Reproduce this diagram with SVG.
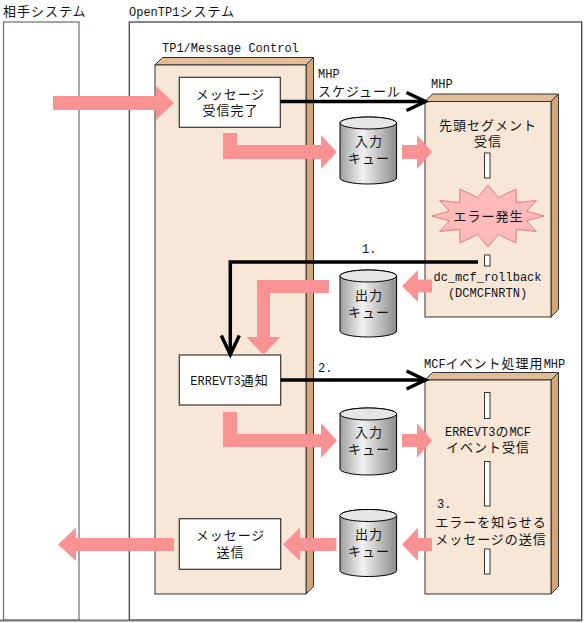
<svg xmlns="http://www.w3.org/2000/svg" xmlns:xlink="http://www.w3.org/1999/xlink" width="587" height="623" viewBox="0 0 587 623">
<style>
.j{font-family:"Noto Sans CJK JP","Noto Sans",sans-serif;font-size:13px;letter-spacing:1px;fill:#111}
.m{font-family:"Liberation Mono","DejaVu Sans Mono",monospace;font-size:12px;letter-spacing:0;fill:#111}
.c{text-anchor:middle}
.sys{fill:#fff;stroke-width:1.3}
.front{fill:#F8E7D7;stroke:#333;stroke-width:1}
.top{fill:#E2BC96;stroke:#333;stroke-width:1}
.side{fill:#D4A577;stroke:#333;stroke-width:1}
.box{fill:#fff;stroke:#333;stroke-width:1.2}
.bar{fill:#fff;stroke:#333;stroke-width:1}
.pink{fill:#F99393}
.blk{fill:none;stroke:#000;stroke-width:3.5;stroke-linejoin:miter}
</style>
<defs>
<linearGradient id="cg" x1="0" y1="0" x2="1" y2="0">
<stop offset="0" stop-color="#A0A0A0"/>
<stop offset="0.4" stop-color="#F2F2F2"/>
<stop offset="1" stop-color="#8C8C8C"/>
</linearGradient>
<marker id="chev" markerUnits="userSpaceOnUse" markerWidth="24" markerHeight="24" viewBox="0 0 24 24" refX="21" refY="12" orient="auto">
<path d="M2,3 L21,12 L2,21" fill="none" stroke="#000" stroke-width="3.5"/>
</marker>
<g id="cyl">
<path d="M0,6 A28.3,6 0 0,1 56.6,6 V61 A28.3,6 0 0,1 0,61 Z" fill="url(#cg)" stroke="#000" stroke-width="1"/>
<ellipse cx="28.3" cy="6" rx="28.3" ry="6" fill="#E6E6E6" stroke="#000" stroke-width="1"/>
</g>
</defs>

<g id="partner-system">
<rect class="sys" x="3.5" y="22" width="75.5" height="598" stroke="#777"/>
<text class="j" x="3" y="16">相手システム</text>
</g>

<g id="opentp1-system">
<rect class="sys" x="129.3" y="22" width="452.4" height="598" stroke="#444"/>
<line x1="0" y1="620.5" x2="582.5" y2="620.5" stroke="#777" stroke-width="2"/>
<text class="j" x="129" y="16"><tspan class="m">OpenTP1</tspan>システム</text>
</g>

<g id="tp1-message-control">
<polygon class="top" points="155,65 162.5,57.5 313.5,57.5 306,65"/>
<polygon class="side" points="306,65 313.5,57.5 313.5,586.5 306,594"/>
<rect class="front" x="155" y="65" width="151" height="529"/>
<text class="m" x="162" y="52">TP1/Message Control</text>
</g>

<g id="mhp">
<polygon class="top" points="425,101.5 432.5,94 558.5,94 551,101.5"/>
<polygon class="side" points="551,101.5 558.5,94 558.5,309.5 551,317"/>
<rect class="front" x="425" y="101.5" width="126" height="215.5"/>
<text class="m" x="431" y="88">MHP</text>
<text class="j c" x="488" y="130">先頭セグメント</text>
<text class="j c" x="488" y="146">受信</text>
<rect class="bar" x="484.5" y="153" width="5.5" height="25"/>
<rect class="bar" x="484.5" y="255" width="5.5" height="11"/>
<text class="m c" x="487.5" y="281">dc_mcf_rollback</text>
<text class="m c" x="487.5" y="297">(DCMCFNRTN)</text>
</g>

<g id="error-burst">
<polygon points="544,216 526.6,220.9 536.5,231.5 516.3,229.4 516,242.8 498.4,234.4 488,247 477.6,234.4 460,242.8 459.7,229.4 439.5,231.5 449.4,220.9 432,216 449.4,211.1 439.5,200.5 459.7,202.6 460,189.2 477.6,197.6 488,185 498.4,197.6 516,189.2 516.3,202.6 536.5,200.5 526.6,211.1" fill="#FFBABA" stroke="#E07878" stroke-width="1"/>
<text class="j c" x="488.5" y="221">エラー発生</text>
</g>

<g id="mcf-mhp">
<polygon class="top" points="425,380 432.5,372.5 558.5,372.5 551,380"/>
<polygon class="side" points="551,380 558.5,372.5 558.5,586.5 551,594"/>
<rect class="front" x="425" y="380" width="126" height="214"/>
<text class="j" x="424" y="368"><tspan class="m">MCF</tspan>イベント処理用<tspan class="m">MHP</tspan></text>
<rect class="bar" x="484.5" y="392.5" width="5.5" height="26"/>
<text class="j c" x="488" y="436"><tspan class="m">ERREVT3</tspan>の<tspan class="m">MCF</tspan></text>
<text class="j c" x="488" y="452">イベント受信</text>
<rect class="bar" x="484.5" y="461.5" width="5.5" height="44.5"/>
<text class="m" x="437" y="508">3.</text>
<text class="j c" x="491" y="527">エラーを知らせる</text>
<text class="j c" x="491" y="544">メッセージの送信</text>
<rect class="bar" x="484.5" y="549" width="5.5" height="25"/>
</g>

<g id="box-receive">
<rect class="box" x="179.3" y="77.3" width="101" height="50"/>
<text class="j c" x="230.5" y="99">メッセージ</text>
<text class="j c" x="230.5" y="115">受信完了</text>
</g>

<g id="box-errevt3">
<rect class="box" x="179.3" y="355" width="101.4" height="50"/>
<text class="j c" x="229.5" y="385"><tspan class="m">ERREVT3</tspan>通知</text>
</g>

<g id="box-send">
<rect class="box" x="179.3" y="518.7" width="101.4" height="50.6"/>
<text class="j c" x="230.5" y="540">メッセージ</text>
<text class="j c" x="230.5" y="557">送信</text>
</g>

<g id="queue-in-1">
<use xlink:href="#cyl" x="340" y="117"/>
<text class="j c" x="369" y="146">入力</text>
<text class="j c" x="369" y="163">キュー</text>
</g>
<g id="queue-out-1">
<use xlink:href="#cyl" x="340" y="270"/>
<text class="j c" x="369" y="300">出力</text>
<text class="j c" x="369" y="317">キュー</text>
</g>
<g id="queue-in-2">
<use xlink:href="#cyl" x="340" y="408"/>
<text class="j c" x="369" y="437">入力</text>
<text class="j c" x="369" y="454">キュー</text>
</g>
<g id="queue-out-2">
<use xlink:href="#cyl" x="340" y="509.5"/>
<text class="j c" x="369" y="539">出力</text>
<text class="j c" x="369" y="556">キュー</text>
</g>

<g id="connectors">
<polygon class="pink" points="53,96 156,96 156,86 174,103 156,120 156,110 53,110"/>
<polygon class="pink" points="223,133 237,133 237,145 321,145 321,135 337,152 321,169 321,159 223,159"/>
<polygon class="pink" points="402,145 417,145 417,135 432,152 417,169 417,159 402,159"/>
<polygon class="pink" points="432,279.5 418,279.5 418,270 402,286 418,302 418,292.5 432,292.5"/>
<polygon class="pink" points="329,280 329,293 270,293 270,337 280.5,337 263.3,355 246.5,337 257,337 257,280"/>
<polygon class="pink" points="223,412 237,412 237,434 321,434 321,423 337,440.5 321,458 321,447 223,447"/>
<polygon class="pink" points="402,434 417,434 417,423 432,440.5 417,458 417,447 402,447"/>
<polygon class="pink" points="432,538 418,538 418,527.5 402,544.5 418,561 418,551 432,551"/>
<polygon class="pink" points="336.5,538 300,538 300,527.5 283,544.5 300,561 300,551 336.5,551"/>
<polygon class="pink" points="174,538 76,538 76,527.5 58,544.5 76,561 76,551 174,551"/>

<path class="blk" d="M280.3,101.5 H425.5" marker-end="url(#chev)"/>
<text class="m" x="318" y="78">MHP</text>
<text class="j" x="318" y="96">スケジュール</text>

<path class="blk" d="M478,262 H230.3 V354.5" marker-end="url(#chev)"/>
<text class="m" x="362" y="253">1.</text>

<path class="blk" d="M280.7,380 H425.5" marker-end="url(#chev)"/>
<text class="m" x="318" y="372">2.</text>
</g>
</svg>
